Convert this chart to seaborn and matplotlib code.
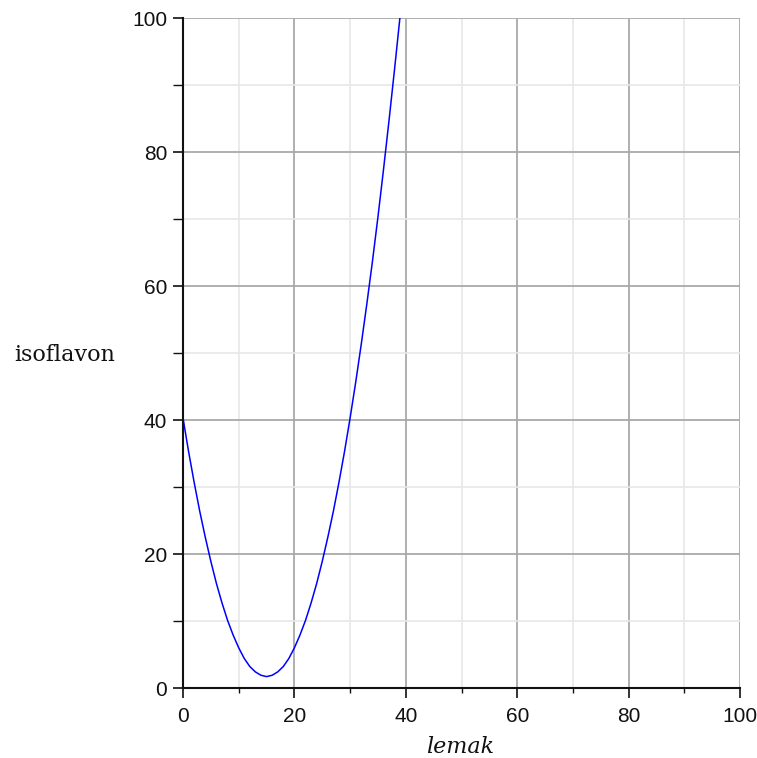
import matplotlib
matplotlib.use("Agg")
import matplotlib.pyplot as plt
import seaborn as sns
import pandas as pd
from matplotlib.ticker import MultipleLocator

# Data
lemak = [0, 1, 2, 3, 4, 5, 6, 7, 8, 9, 10, 11, 12, 13, 14, 15, 16, 17, 18, 19, 20,
         21, 22, 23, 24, 25, 26, 27, 28, 29, 30, 31, 32, 33, 34, 35, 36, 37, 38, 39, 40]
isoflavon = [40.3, 35.3, 30.7, 26.4, 22.5, 18.9, 15.6, 12.7, 10.1, 7.9, 6.0, 4.4, 3.2, 2.4,
             1.9, 1.7, 1.9, 2.4, 3.2, 4.4, 6.0, 7.9, 10.1, 12.7, 15.6, 18.9, 22.5, 26.4,
             30.7, 35.3, 40.3, 45.6, 51.3, 57.3, 63.6, 70.3, 77.4, 84.8, 92.5, 100.5, 109.0]
x_ticks = [0, 20, 40, 60, 80, 100]
y_ticks = [0, 20, 40, 60, 80, 100]
x_label = "lemak"
y_label = "isoflavon"

df = pd.DataFrame({"lemak": lemak, "isoflavon": isoflavon})

sns.set_style("white")
plt.rcParams["font.family"] = ["Liberation Sans", "DejaVu Sans"]

fig = plt.figure(figsize=(7.57, 7.58), dpi=100)
ax = fig.add_axes([183 / 757, 70 / 758, 557 / 757, 670 / 758])

sns.lineplot(data=df, x="lemak", y="isoflavon", ax=ax, color="#0000ff",
             linewidth=1.1, zorder=5, clip_on=True)

ax.set_xlim(0, 100)
ax.set_ylim(0, 100)
ax.set_xticks(x_ticks)
ax.set_yticks(y_ticks)
ax.set_xticklabels([str(v) for v in x_ticks])
ax.set_yticklabels([str(v) for v in y_ticks])
ax.xaxis.set_minor_locator(MultipleLocator(10))
ax.yaxis.set_minor_locator(MultipleLocator(10))

ax.grid(which="major", color="#a9a9a9", linewidth=1.3, zorder=0)
ax.grid(which="minor", color="#e8e8e8", linewidth=1.2, zorder=0)
ax.set_axisbelow(True)

for s in ["top", "right"]:
    ax.spines[s].set_visible(False)
for s in ["left", "bottom"]:
    ax.spines[s].set_color("#111111")
    ax.spines[s].set_linewidth(1.5)
    ax.spines[s].set_zorder(6)

ax.tick_params(axis="both", which="major", direction="out", length=7.5, width=1.2,
               color="#111111", labelsize=15, labelcolor="#111111",
               bottom=True, left=True)
ax.tick_params(axis="x", which="major", pad=6)
ax.tick_params(axis="y", which="major", pad=4)
ax.tick_params(axis="x", which="minor", direction="out", length=3.5, width=1.0,
               color="#111111", bottom=True)
ax.tick_params(axis="y", which="minor", direction="out", length=7.5, width=1.0,
               color="#111111", left=True)

ax.set_xlabel(x_label, family="DejaVu Serif", style="italic", fontsize=16,
              color="#111111", va="center")
ax.xaxis.set_label_coords(0.497, -0.088)
ax.set_ylabel(y_label, family="DejaVu Serif", fontsize=16, rotation=0,
              color="#111111", ha="center", va="center")
ax.yaxis.set_label_coords(-0.212, 0.497)

fig.savefig("out.png", dpi=100)
